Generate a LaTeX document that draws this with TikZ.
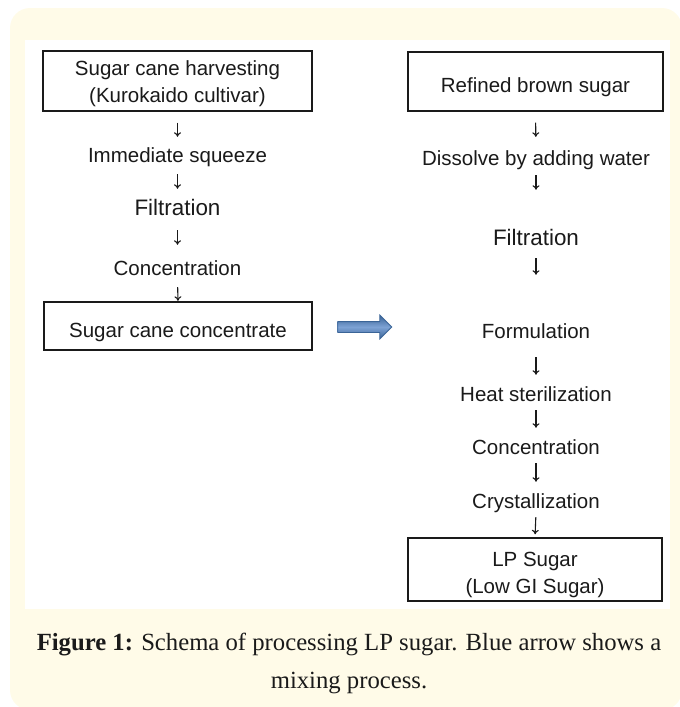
\documentclass[tikz,border=0pt]{standalone}
\usepackage{fontspec}
\setmainfont{Liberation Sans}
\newfontfamily\capfont{Liberation Serif}
\usetikzlibrary{arrows.meta,shapes.arrows}
\definecolor{cream}{HTML}{FFFBE8}
\definecolor{arrowdark}{HTML}{3A6497}
\definecolor{arrowlight}{HTML}{7DA2D4}
\definecolor{ink}{HTML}{1A1A1A}
\begin{document}
\begin{tikzpicture}[x=1pt,y=-1pt,
  lbl/.style={font=\fontsize{20.5}{27}\selectfont, text=ink, inner sep=0pt, anchor=base, text height=15pt, text depth=4.5pt},
  big/.style={font=\fontsize{22.4}{27}\selectfont, text height=16.5pt},
  box/.style={draw=ink, line width=1.4pt, inner sep=0pt, anchor=base, align=center, text=ink, font=\fontsize{20.5}{27}\selectfont},
  dn/.style={draw=ink, line width=1.1pt, -{To[length=4.5pt,width=7pt]}},
]
\useasboundingbox (0,0) rectangle (680,707);
\fill[cream, rounded corners=20pt] (10,8) rectangle (682,710);
\fill[white] (25,40) rectangle (670,609);

% left column
\node[box, minimum width=269pt, text height=51pt, text depth=9pt] (harv) at (177.5,102) {Sugar cane harvesting\\(Kurokaido cultivar)};
\node[lbl] (sq) at (177.5,162) {Immediate squeeze};
\node[lbl,big] (filt1) at (177.5,215) {Filtration};
\node[lbl] (conc1) at (177.5,275) {Concentration};
\node[box, minimum width=268pt, text height=35pt, text depth=13pt] (scc) at (178,337) {Sugar cane concentrate};

% right column
\node[box, minimum width=255pt, text height=40pt, text depth=19pt] (rbs) at (535.5,92) {Refined brown sugar};
\node[lbl] (dis) at (536,165) {Dissolve by adding water};
\node[lbl,big] (filt2) at (536,245) {Filtration};
\node[lbl] (form) at (536,338) {Formulation};
\node[lbl] (heat) at (536,401) {Heat sterilization};
\node[lbl] (conc2) at (536,454) {Concentration};
\node[lbl] (cry) at (536,508) {Crystallization};
\node[box, minimum width=254pt, text height=55pt, text depth=8pt] (lp) at (535,593) {LP Sugar\\(Low GI Sugar)};

% flow arrows
\draw[dn, shorten <=11pt, shorten >=10pt] (harv.south) -- (sq.north);
\draw[dn, shorten <=7.5pt, shorten >=9.5pt] (sq.south) -- (filt1.north);
\draw[dn, shorten <=10.5pt, shorten >=15pt] (filt1.south) -- (conc1.north);
\draw[dn, shorten <=7.5pt, shorten >=0.5pt] (conc1.south) -- (scc.north);

\draw[dn, shorten <=11pt, shorten >=13pt] (rbs.south) -- (dis.north);
\draw[dn, shorten <=5.5pt, shorten >=38.5pt] (dis.south) -- (filt2.north);
\draw[dn, shorten <=8.5pt, shorten >=48pt] (filt2.south) -- (form.north);
\draw[dn, shorten <=14.5pt, shorten >=11pt] (form.south) -- (heat.north);
\draw[dn, shorten <=4.5pt, shorten >=11pt] (heat.south) -- (conc2.north);
\draw[dn, shorten <=4.5pt, shorten >=11pt] (conc2.south) -- (cry.north);
\draw[dn, shorten <=4.5pt, shorten >=3pt] (cry.south) -- (lp.north);

% mixing arrow
\node[single arrow, minimum height=54pt, text height=10pt, text depth=0pt, single arrow head extend=6.5pt, inner sep=0pt,
      draw=arrowdark, line width=0.8pt, top color=arrowdark, bottom color=arrowdark, middle color=arrowlight] (mix) at (362,327) {};

% caption
\node[font=\capfont\fontsize{24.7}{38}\selectfont, align=center, anchor=base, inner sep=0pt, text=ink] (cap) at (349,688)
  {\textbf{Figure 1:} Schema of processing LP sugar. Blue arrow shows a\\mixing process.};
\end{tikzpicture}
\end{document}
